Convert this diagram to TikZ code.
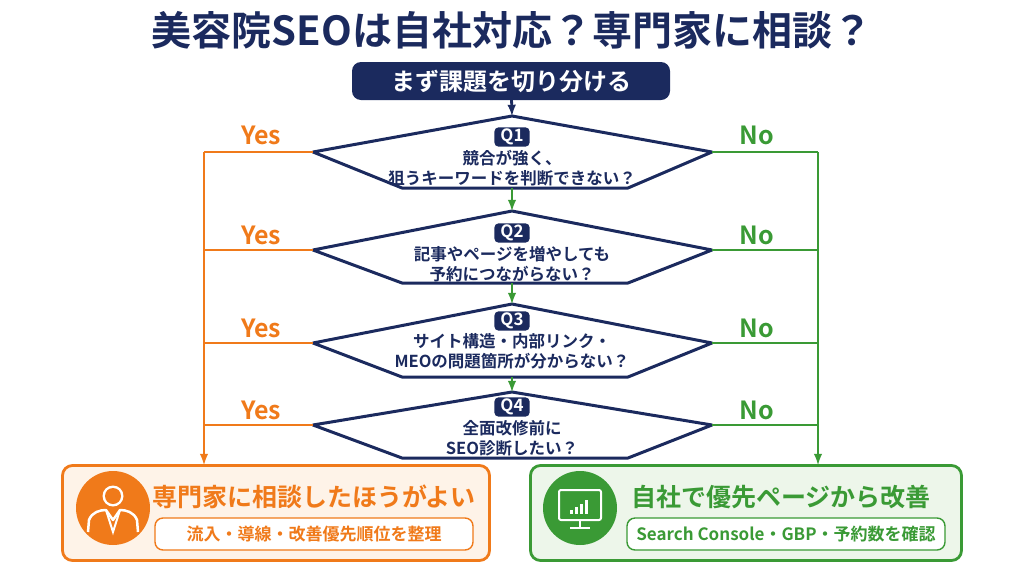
\documentclass[tikz,border=0pt]{standalone}
\usepackage{fontspec}
\setmainfont{Noto Sans CJK JP}[BoldFont={Noto Sans CJK JP Bold}]
\usetikzlibrary{positioning}
\definecolor{navy}{RGB}{27,42,94}
\definecolor{yesc}{RGB}{240,122,26}
\definecolor{noc}{RGB}{58,154,53}
\definecolor{yesbg}{RGB}{254,243,232}
\definecolor{nobg}{RGB}{237,246,234}
\tikzset{
  q/.style={draw=navy,line width=3pt,fill=white,line join=round},
  qtag/.style={fill=navy,text=white,rounded corners=4pt,font=\fontsize{17}{19}\selectfont\bfseries,inner xsep=6pt,inner ysep=1.5pt},
  qtxt/.style={text=navy,font=\fontsize{16.5}{20}\selectfont\bfseries,align=center},
  yesl/.style={draw=yesc,line width=2.8pt},
  nol/.style={draw=noc,line width=2.8pt},
  ans/.style={font=\fontsize{25}{26}\selectfont\bfseries},
}
\begin{document}
\begin{tikzpicture}[x=1pt,y=-1pt]
  \useasboundingbox (0,0) rectangle (1024,576);
  % title
  \node[text=navy,font=\fontsize{40}{44}\selectfont\bfseries] (title) at (512,30) {美容院SEOは自社対応？専門家に相談？};
  \node[fill=navy,text=white,rounded corners=9pt,minimum width=318pt,minimum height=38pt,font=\fontsize{24}{26}\selectfont\bfseries] (start) at (511,81) {まず課題を切り分ける};
  % question shapes
  \coordinate (q1t) at (512,116); \coordinate (q1l) at (313,152); \coordinate (q1r) at (712,152);
  \draw[q] (q1t) -- (q1r) -- (628,188) -- (402,188) -- (q1l) -- cycle;
  \coordinate (q1b) at (512,188);
  \coordinate (q2t) at (512,211); \coordinate (q2l) at (313,250); \coordinate (q2r) at (712,250);
  \draw[q] (q2t) -- (q2r) -- (628,283) -- (402,283) -- (q2l) -- cycle;
  \coordinate (q2b) at (512,283);
  \coordinate (q3t) at (512,304); \coordinate (q3l) at (313,343); \coordinate (q3r) at (712,343);
  \draw[q] (q3t) -- (q3r) -- (628,377) -- (402,377) -- (q3l) -- cycle;
  \coordinate (q3b) at (512,377);
  \coordinate (q4t) at (512,392); \coordinate (q4l) at (313,425); \coordinate (q4r) at (712,425);
  \draw[q] (q4t) -- (q4r) -- (628,458) -- (402,458) -- (q4l) -- cycle;
  % labels
  \node[qtag] (t1) at (512,137) {Q1};
  \node[qtxt] (x1) at (512,168) {競合が強く、\\狙うキーワードを判断できない？};
  \node[qtag] (t2) at (512,233) {Q2};
  \node[qtxt] (x2) at (512,264) {記事やページを増やしても\\予約につながらない？};
  \node[qtag] (t3) at (512,321) {Q3};
  \node[qtxt] (x3) at (512,351) {サイト構造・内部リンク・\\MEOの問題箇所が分からない？};
  \node[qtag] (t4) at (512,407) {Q4};
  \node[qtxt] (x4) at (512,438) {全面改修前に\\SEO診断したい？};
  % down arrows
  \draw[navy,line width=2.8pt,-latex] (start) -- (q1t);
  \draw[noc,line width=2.8pt,-latex] (q1b) -- (q2t);
  \draw[noc,line width=2.8pt,-latex] (q2b) -- (q3t);
  \draw[noc,line width=2.8pt,-latex] (q3b) -- (q4t);
  % result boxes
  \node[draw=yesc,fill=yesbg,line width=2.8pt,rounded corners=10pt,minimum width=427pt,minimum height=95pt] (yesbox) at (276,513) {};
  \node[draw=noc,fill=nobg,line width=2.8pt,rounded corners=10pt,minimum width=431pt,minimum height=95pt] (nobox) at (746,513) {};
  % yes / no lines
  \draw[yesl] (q1l) -- (204,152) coordinate (ly1);
  \draw[yesl,-latex] (ly1) -- (204,465);
  \draw[yesl] (q2l) -- (204,250);
  \draw[yesl] (q3l) -- (204,343);
  \draw[yesl] (q4l) -- (204,425);
  \draw[nol] (q1r) -- (818,152) coordinate (ln1);
  \draw[nol,-latex] (ln1) -- (818,465);
  \draw[nol] (q2r) -- (818,250);
  \draw[nol] (q3r) -- (818,343);
  \draw[nol] (q4r) -- (818,425);
  \foreach \y [count=\i] in {135,235,328,410} {
    \node[ans,text=yesc] (yes\i) at (261,\y) {Yes};
    \node[ans,text=noc] (no\i) at (757,\y) {No};
  }
  % left box
  \fill[yesc] (113,508) circle (37);
  \fill[white] (113,496) circle (10.5);
  \fill[yesc] (113,496) circle (8);
  \draw[white,line width=2.5pt,line join=round] (88,532) -- (89,520) .. controls (92,512) and (100,510) .. (106,510) -- (113,520) -- (120,510) .. controls (126,510) and (134,512) .. (137,520) -- (138,532);
  \draw[white,line width=2pt] (106,510) -- (113,532) -- (120,510);
  \node[text=yesc,font=\fontsize{25}{27}\selectfont\bfseries] (ytitle) at (314,497) {専門家に相談したほうがよい};
  \node[draw=yesc,fill=white,line width=1.4pt,rounded corners=8pt,minimum width=318pt,minimum height=32pt,text=yesc,font=\fontsize{17}{19}\selectfont\bfseries] (ysub) at (314,534) {流入・導線・改善優先順位を整理};
  % right box
  \fill[noc] (580,508) circle (37);
  \draw[white,line width=2pt,rounded corners=2pt] (559,490) rectangle (601,520);
  \draw[white,line width=2pt] (580,520) -- (580,527) (570,528) -- (590,528);
  \foreach \h [count=\i] in {4,7,10,14} \fill[white] (565+\i*5,514) rectangle ++(3,-\h);
  \node[text=noc,font=\fontsize{25}{27}\selectfont\bfseries] (ntitle) at (781,497) {自社で優先ページから改善};
  \node[draw=noc,fill=white,line width=1.4pt,rounded corners=8pt,minimum width=318pt,minimum height=32pt,text=noc,font=\fontsize{17}{19}\selectfont\bfseries] (nsub) at (786,534) {Search Console・GBP・予約数を確認};
\end{tikzpicture}
\end{document}
